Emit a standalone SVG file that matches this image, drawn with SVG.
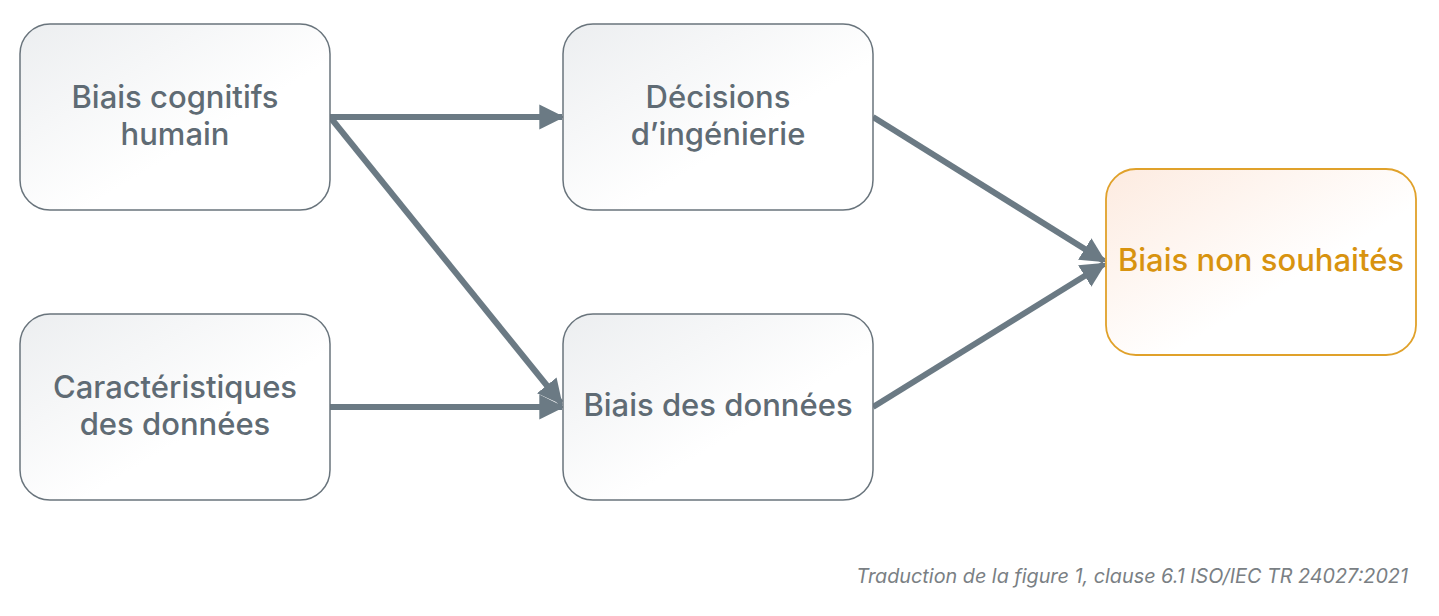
<svg xmlns="http://www.w3.org/2000/svg" width="1439" height="616" viewBox="0 0 1439 616">
<style>
.box{fill:url(#g);stroke:#69747c;stroke-width:1.5}
.hot{fill:url(#go);stroke:#e0a12a;stroke-width:1.8}
.t{font-family:Inter,"Noto Sans",sans-serif;font-size:31px;font-weight:500;fill:#5f6b74;text-anchor:middle}
.to{fill:#d8930f}
.c{stroke:#6b7a84;stroke-width:6;fill:none;marker-end:url(#a)}
.f{font-family:Inter,"Noto Sans",sans-serif;font-size:19.8px;font-style:italic;fill:#7a7f84;text-anchor:end}
</style>
<defs>
<linearGradient id="g" x1="0" y1="0" x2="1" y2="1"><stop offset="0" stop-color="#eceef0"/><stop offset="0.6" stop-color="#ffffff"/></linearGradient>
<linearGradient id="go" x1="0" y1="0" x2="1" y2="1"><stop offset="0" stop-color="#fdebe0"/><stop offset="0.6" stop-color="#ffffff"/></linearGradient>
<marker id="a" viewBox="0 0 10 10" refX="9" refY="5" markerWidth="4.2" markerHeight="4.2" orient="auto" markerUnits="strokeWidth"><path d="M0,0 L10,5 L0,10 z" fill="#6b7a84"/></marker>
</defs>
<g id="connectors">
<line class="c" x1="330" y1="117" x2="562" y2="117"/>
<line class="c" x1="330" y1="117" x2="561" y2="403"/>
<line class="c" x1="330" y1="407" x2="562" y2="407"/>
<line class="c" x1="873" y1="117" x2="1104" y2="261"/>
<line class="c" x1="873" y1="407" x2="1104" y2="264"/>
</g>
<g id="n1"><rect class="box" x="20" y="24" width="310" height="186" rx="30"/><text class="t" x="175" y="108">Biais cognitifs</text><text class="t" x="175" y="145">humain</text></g>
<g id="n2"><rect class="box" x="563" y="24" width="310" height="186" rx="30"/><text class="t" x="718" y="108">Décisions</text><text class="t" x="718" y="145">d’ingénierie</text></g>
<g id="n3"><rect class="box" x="20" y="314" width="310" height="186" rx="30"/><text class="t" x="175" y="398">Caractéristiques</text><text class="t" x="175" y="435">des données</text></g>
<g id="n4"><rect class="box" x="563" y="314" width="310" height="186" rx="30"/><text class="t" x="718" y="416">Biais des données</text></g>
<g id="n5"><rect class="hot" x="1106" y="169" width="310" height="186" rx="30"/><text class="t to" x="1261" y="271">Biais non souhaités</text></g>
<text class="f" x="1408" y="583">Traduction de la figure 1, clause 6.1 ISO/IEC TR 24027:2021</text>
</svg>
